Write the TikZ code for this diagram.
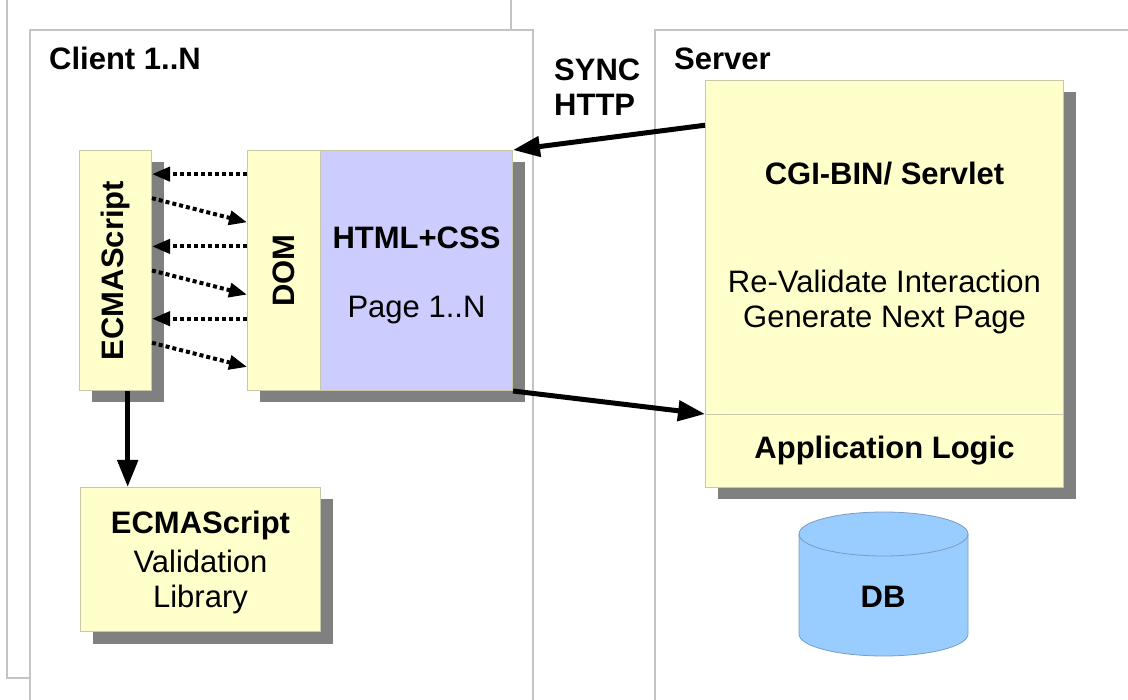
\documentclass[tikz,border=0pt]{standalone}
\usepackage{fontspec}
\setmainfont{Liberation Sans}
\usetikzlibrary {arrows.meta}
\usetikzlibrary {calc}
\usetikzlibrary {shadows}

\definecolor{framegray}{HTML}{C4C4C4}
\definecolor{noteyellow}{HTML}{FFFFCC}
\definecolor{noteedge}{HTML}{C8C8A8}
\definecolor{pagelilac}{HTML}{CCCCFF}
\definecolor{shadowgray}{HTML}{808080}
\definecolor{dbblue}{HTML}{99CCFF}
\definecolor{dbedge}{HTML}{7A9CC0}

\begin{document}
\begin{tikzpicture}[x=1pt, y=-1pt, >={Triangle[length=27pt, width=20pt]},
        frame/.style={draw=framegray, line width=1.3pt, fill=white},
        note/.style={draw=noteedge, line width=1pt, fill=noteyellow, inner sep=0pt,
            anchor=north west, align=center, font=\fontsize{31}{35}\selectfont,
            drop shadow={shadow xshift=12pt, shadow yshift=-12pt, fill=shadowgray, opacity=1}},
        txt/.style={font=\fontsize{31}{35}\selectfont, inner sep=0pt, align=center},
        heading/.style={txt, font=\fontsize{31}{35}\selectfont\bfseries},
        link/.style={->, line width=5pt},
        call/.style={-{Triangle[length=18pt, width=14pt]}, line width=4pt,
            dash pattern=on 4pt off 3pt}]
    \clip (0,0) rectangle (1128,700);
    \fill[white] (0,0) rectangle (1128,700);

    \draw[frame] (7,-10) rectangle (511,678);
    \draw[frame] (30,30) rectangle (533,720);
    \draw[frame] (655,30) rectangle (1140,720);

    \node[heading, anchor=base west] (client) at (49,70) {Client 1..N};
    \node[heading, anchor=base west] (server) at (674,70) {Server};
    \node[heading, anchor=west, align=left] (sync) at (554,87) {SYNC\\HTTP};

    \node[note, minimum width=72, minimum height=240] (ecma) at (79,150) {};
    \node[heading, rotate=90] at (ecma) {ECMAScript};
    \node[note, minimum width=73, minimum height=240] (dom) at (247,150) {};
    \node[heading, rotate=90] at (dom) {DOM};
    \node[note, fill=pagelilac, minimum width=192, minimum height=240] (html) at (320,150) {};
    \node[txt, yshift=-5pt] at (html) {\bfseries HTML+CSS\\[34pt]Page 1..N};

    \node[note, minimum width=240, minimum height=144] (lib) at (80,487) {};
    \node[txt, yshift=-3pt] at (lib) {\bfseries ECMAScript\\[4pt]Validation\\Library};

    \node[note, minimum width=358, minimum height=334] (cgi) at (705,80)
        {\bfseries CGI-BIN/ Servlet\\[73pt]Re-Validate Interaction\\Generate Next Page};
    \node[note, minimum width=358, minimum height=73] (applogic) at (705,414)
        {\bfseries Application Logic};

    \draw[draw=dbedge, fill=dbblue, line width=0.8pt] (799,534) -- (799,634)
        arc[start angle=180, end angle=0, x radius=84.5, y radius=22] -- (968,534)
        arc[start angle=0, end angle=-180, x radius=84.5, y radius=22] -- cycle;
    \draw[draw=dbedge, line width=0.8pt] (799,534)
        arc[start angle=180, end angle=0, x radius=84.5, y radius=22];
    \node[heading] (db) at (883,597) {DB};

    \foreach \f in {0.1, 0.4, 0.7} {
        \draw[call] ($(dom.north west)!\f!(dom.south west)$)
            -- ($(ecma.north east)!\f!(ecma.south east)$);
        \draw[call] ($(ecma.north east)!\f+0.1!(ecma.south east)$)
            -- ($(dom.north west)!\f+0.2!(dom.south west)$);
    }

    \coordinate (ecmafoot) at ($(ecma.south west)!0.667!(ecma.south east)$);
    \draw[link] (ecmafoot) -- (ecmafoot |- lib.north);
    \draw[link] ($(cgi.north west)!0.135!(cgi.south west)$) -- (html.north east);
    \draw[link] (html.south east) -- (applogic.north west);
\end{tikzpicture}
\end{document}
